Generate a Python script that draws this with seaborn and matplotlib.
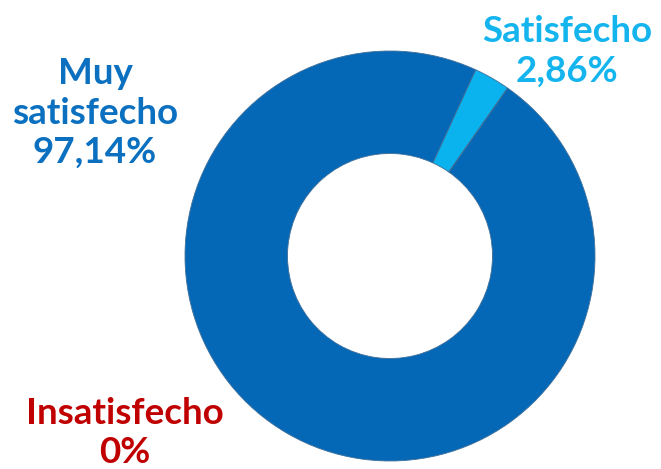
from matplotlib import pyplot as plt
import seaborn as sns

categorias = ["Satisfecho", "Muy satisfecho", "Insatisfecho"]
porcentajes = [2.86, 97.14, 0.0]
colores_sector = ["#0AB2EE", "#0568B6", "#C00000"]
colores_texto = ["#14B4EE", "#0A70BF", "#C00000"]


def formato(v):
    if v == 0:
        return "0%"
    return f"{v:.2f}".replace(".", ",") + "%"


sns.set_theme(style="white")
plt.rcParams['font.family'] = ['Lato', 'DejaVu Sans']

W, H = 661, 469
fig = plt.figure(figsize=(W / 100, H / 100), dpi=100)
fig.patch.set_facecolor("white")

# donut: centro (390, 256) px, radio 205 px
cx, cy, r = 390, 256, 205
ax = fig.add_axes([(cx - r) / W, (H - cy - r) / H, 2 * r / W, 2 * r / H])
ax.pie(porcentajes, colors=colores_sector, startangle=55, counterclock=True,
       radius=1, wedgeprops=dict(width=0.5, edgecolor="#3f6f9a", linewidth=0.6))
ax.set_xlim(-1, 1)
ax.set_ylim(-1, 1)
ax.set_aspect("equal")
ax.axis("off")

# etiquetas (posiciones en px)
posiciones = {
    "Satisfecho": (567, 51, "Satisfecho"),
    "Muy satisfecho": (95, 113, "Muy\nsatisfecho"),
    "Insatisfecho": (125, 433, "Insatisfecho"),
}
for cat, val, col in zip(categorias, porcentajes, colores_texto):
    x, y, txt = posiciones[cat]
    fig.text(x / W, 1 - y / H, f"{txt}\n{formato(val)}", color=col,
             fontsize=26.5, fontweight="bold", ha="center", va="center",
             linespacing=1.25)

fig.savefig("out.png", dpi=100)
